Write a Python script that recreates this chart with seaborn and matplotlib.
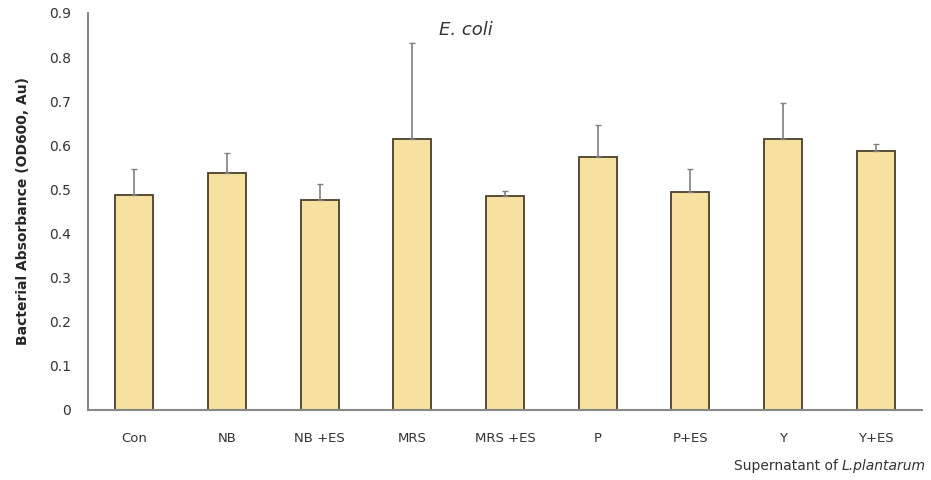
import matplotlib
matplotlib.use("Agg")
import matplotlib.pyplot as plt
import seaborn as sns
import pandas as pd
import numpy as np

categories = ["Con", "NB", "NB +ES", "MRS", "MRS +ES", "P", "P+ES", "Y", "Y+ES"]
means = [0.487, 0.537, 0.476, 0.614, 0.485, 0.574, 0.494, 0.614, 0.587]
sds = [0.060, 0.045, 0.036, 0.218, 0.012, 0.072, 0.052, 0.082, 0.016]
yticks = [0, 0.1, 0.2, 0.3, 0.4, 0.5, 0.6, 0.7, 0.8, 0.9]
ytick_labels = ["0", "0.1", "0.2", "0.3", "0.4", "0.5", "0.6", "0.7", "0.8", "0.9"]

sns.set_style("white")
plt.rcParams['font.family'] = ['DejaVu Sans']

df = pd.DataFrame({"cat": categories, "mean": means, "sd": sds})

fig = plt.figure(figsize=(9.31, 4.8), dpi=100)
ax = fig.add_axes([0.0945, 0.146, 0.896, 0.827])

sns.barplot(data=df, x="cat", y="mean", order=categories, color="#F7E1A1",
            edgecolor="#4a3f2a", linewidth=1.3, width=0.41, saturation=1,
            errorbar=None, ax=ax)
ax.errorbar(np.arange(len(categories)), df["mean"], yerr=[np.zeros(len(sds)), df["sd"]],
            fmt="none", ecolor="#808080", elinewidth=1.2, capsize=2.5, capthick=1.0)

ax.set_xlim(-0.5, len(categories) - 0.5)
ax.set_ylim(0, 0.9)
ax.set_yticks(yticks)
ax.set_yticklabels(ytick_labels, fontsize=10, color="#333333")
ax.set_xticks(np.arange(len(categories)))
ax.set_xticklabels(categories, fontsize=9.5, color="#333333")
ax.tick_params(axis="x", length=0, pad=16)
ax.tick_params(axis="y", direction="in", length=3, color="#888888", width=1.2, pad=12)
ax.set_xticks(np.arange(len(categories)) + 0.5, minor=True)
ax.tick_params(axis="x", which="minor", direction="in", length=4, color="#888888", width=1.2)

for s in ["top", "right"]:
    ax.spines[s].set_visible(False)
for s in ["left", "bottom"]:
    ax.spines[s].set_color("#888888")
    ax.spines[s].set_linewidth(1.5)

ax.set_xlabel("")
ax.set_ylabel("Bacterial Absorbance (OD600, Au)", fontsize=10, fontweight="bold", labelpad=14)
fig.text(0.50, 0.937, "E. coli", ha="center", va="center",
         fontsize=13, style="italic", color="#333333")

t2 = fig.text(0.994, 0.03, "L.plantarum", ha="right", va="center",
              fontsize=10, style="italic", color="#333333")
fig.canvas.draw()
bb = t2.get_window_extent(renderer=fig.canvas.get_renderer())
x0 = bb.x0 / fig.bbox.width
fig.text(x0 - 0.004, 0.03, "Supernatant of", ha="right", va="center",
         fontsize=10, color="#333333")

fig.savefig("out.png", dpi=100)
